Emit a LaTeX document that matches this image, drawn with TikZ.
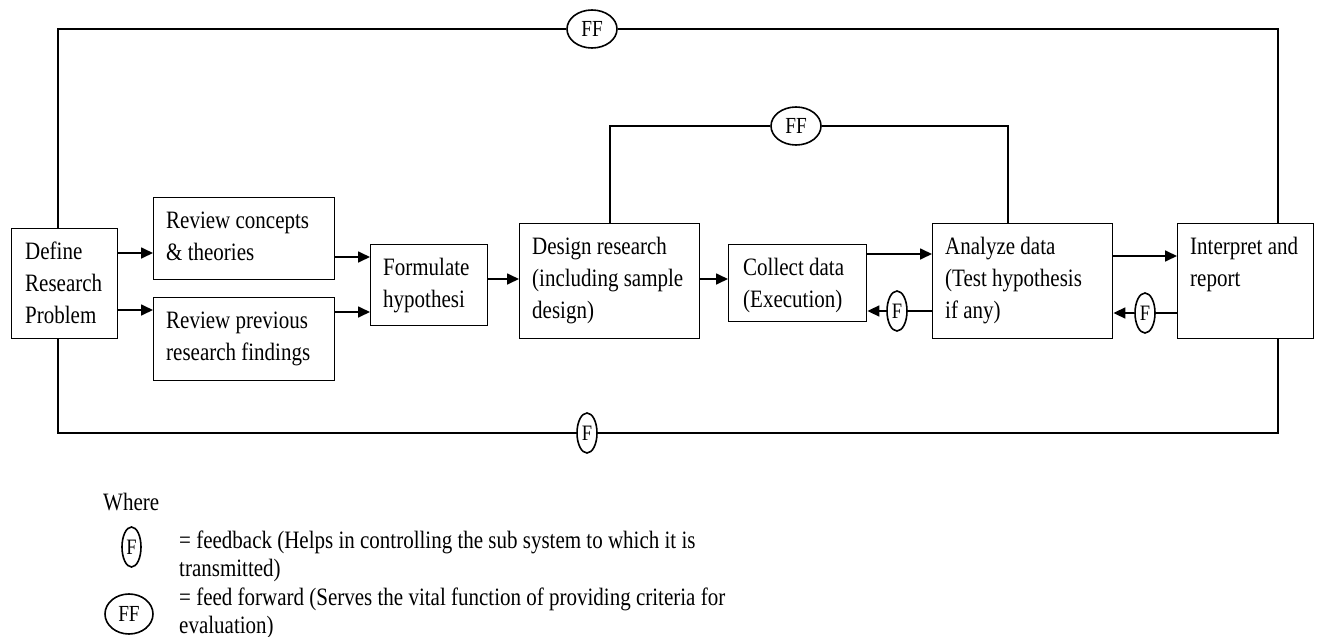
\documentclass[tikz,border=0pt]{standalone}
\usepackage{fontspec}
\setmainfont{Liberation Serif}[FakeStretch=0.84]
\usetikzlibrary{arrows.meta,shapes.geometric}
\begin{document}
\begin{tikzpicture}[x=1pt,y=-1pt,
  box/.style={draw,line width=1.4pt,inner sep=0pt,anchor=north west},
  lbl/.style={inner sep=0pt,anchor=north west,align=left,font=\fontsize{25}{32}\selectfont},
  ln/.style={line width=1.7pt},
  arr/.style={ln,-{Triangle[length=12pt,width=11pt]}},
  fb/.style={draw,ellipse,line width=1.6pt,inner sep=0pt,minimum width=20pt,minimum height=40pt,fill=white,font=\fontsize{22}{26}\selectfont},
  ff/.style={draw,ellipse,line width=1.6pt,inner sep=0pt,minimum width=50pt,minimum height=38pt,fill=white,font=\fontsize{23}{28}\selectfont}]
\useasboundingbox (0,0) rectangle (1320,637);
% boxes
\node[box,minimum width=106pt,minimum height=110pt] (def) at (11,228) {};
\node[box,minimum width=181pt,minimum height=82pt] (rc) at (153,197) {};
\node[box,minimum width=181pt,minimum height=83pt] (rp) at (153,297) {};
\node[box,minimum width=117pt,minimum height=81pt] (form) at (370,244) {};
\node[box,minimum width=180pt,minimum height=115pt] (des) at (519,223) {};
\node[box,minimum width=138pt,minimum height=77pt] (col) at (728,244) {};
\node[box,minimum width=180pt,minimum height=115pt] (ana) at (932,223) {};
\node[box,minimum width=136pt,minimum height=115pt] (int) at (1177,223) {};
% labels
\node[lbl] (deft) at ([shift={(14,8.6)}]def.north west) {\strut Define\\Research\\Problem};
\node[lbl] (rct) at ([shift={(13,8.6)}]rc.north west) {\strut Review concepts\\\& theories};
\node[lbl] (rpt) at ([shift={(13,8.6)}]rp.north west) {\strut Review previous\\research findings};
\node[lbl] (formt) at ([shift={(13,8.6)}]form.north west) {\strut Formulate\\hypothesi};
\node[lbl] (dest) at ([shift={(13,8.6)}]des.north west) {\strut Design research\\(including sample\\design)};
\node[lbl] (colt) at ([shift={(15,8.6)}]col.north west) {\strut Collect data\\(Execution)};
\node[lbl] (anat) at ([shift={(13,8.6)}]ana.north west) {\strut Analyze data\\(Test hypothesis\\if any)};
\node[lbl] (intt) at ([shift={(13,8.6)}]int.north west) {\strut Interpret and\\report};
% forward arrows
\draw[arr] (def.east |- 0,253) -- (rc.west |- 0,253);
\draw[arr] (def.east |- 0,310) -- (rp.west |- 0,310);
\draw[arr] (rc.east |- 0,257) -- (form.west |- 0,257);
\draw[arr] (rp.east |- 0,312) -- (form.west |- 0,312);
\draw[arr] (form.east |- 0,279) -- (des.west |- 0,279);
\draw[arr] (des.east |- 0,279) -- (col.west |- 0,279);
\draw[arr] (col.east |- 0,254) -- (ana.west |- 0,254);
\draw[arr] (ana.east |- 0,256) -- (int.west |- 0,256);
% feedback
\node[fb] (f1) at (897,311) {F};
\draw[ln] (ana.west |- f1) -- (f1);
\draw[arr] (f1) -- (col.east |- f1);
\node[fb] (f2) at (1145,313) {F};
\draw[ln] (int.west |- f2) -- (f2);
\draw[arr] (f2) -- (ana.east |- f2);
% inner feed forward
\node[ff] (ff2) at (796,126) {FF};
\draw[ln] (des.north) |- (ff2);
\draw[ln] (ff2) -| (ana.north -| 1008,0);
% outer feed forward
\node[ff] (ff1) at (592,29) {FF};
\draw[ln] (def.north -| 58,0) |- (ff1);
\draw[ln] (ff1) -| (int.north -| 1278,0);
% outer feedback
\node[fb] (f3) at (587,433) {F};
\draw[ln] (def.south -| 58,0) |- (f3);
\draw[ln] (f3) -| (int.south -| 1278,0);
% legend
\node[anchor=base west,inner sep=0pt,font=\fontsize{25}{30}\selectfont] (where) at (103,510) {Where};
\node[fb,minimum width=19pt] (lf) at (131.5,547) {F};
\node[ff,minimum width=48pt,minimum height=40pt] (lff) at (129,614) {FF};
\node[lbl,font=\fontsize{25}{28.5}\selectfont] (lft) at (179,528) {\strut= feedback (Helps in controlling the sub system to which it is\\transmitted)};
\node[lbl,font=\fontsize{25}{28.5}\selectfont] (lfft) at (179,585) {\strut= feed forward (Serves the vital function of providing criteria for\\evaluation)};
\end{tikzpicture}
\end{document}
